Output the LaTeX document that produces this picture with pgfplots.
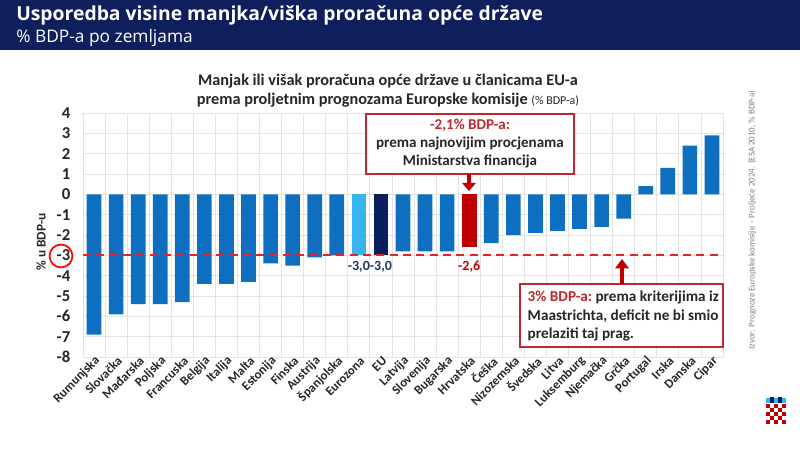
\documentclass[border=0pt]{standalone}
\usepackage{pgfplots}
\pgfplotsset{compat=1.18}
\usepackage{pgfplotstable}
\usetikzlibrary{arrows.meta}
\usepackage{fontspec}
\setmainfont{Carlito}
\newfontfamily\headfont{Open Sans}

\definecolor{headnavy}{HTML}{0F1F5C}
\definecolor{barblue}{HTML}{0E6FC1}
\definecolor{ezblue}{HTML}{38B4F0}
\definecolor{eunavy}{HTML}{0B1F5E}
\definecolor{hrred}{HTML}{C00000}
\definecolor{dashred}{HTML}{E02428}
\definecolor{boxred}{HTML}{C0282B}
\definecolor{txt}{HTML}{262626}
\definecolor{gridgray}{HTML}{E3E3E3}
\definecolor{navytxt}{HTML}{1F3864}

\pgfplotstableread{
x y
0 -6.9
1 -5.9
2 -5.4
3 -5.4
4 -5.3
5 -4.4
6 -4.4
7 -4.3
8 -3.4
9 -3.5
10 -3.1
11 -3.0
14 -2.8
15 -2.8
16 -2.8
18 -2.4
19 -2.0
20 -1.9
21 -1.8
22 -1.7
23 -1.6
24 -1.2
25 0.4
26 1.3
27 2.4
28 2.9
}\countries

\begin{document}
\begin{tikzpicture}
\fill[white] (0,0) rectangle (600pt,337.5pt);
\useasboundingbox (0,0) rectangle (600pt,337.5pt);
\begin{scope}[x=0.75pt,y=-0.75pt,shift={(0pt,337.5pt)}]
  \fill[headnavy] (0,0) rectangle (800,50);
  \node[anchor=base west, text=white, inner sep=0pt, font=\headfont\bfseries\fontsize{14.5}{16}\selectfont] at (16,21) {Usporedba visine manjka/viška proračuna opće države};
  \node[anchor=base west, text=white, inner sep=0pt, font=\headfont\fontsize{13}{15}\selectfont] at (16,43) {\% BDP-a po zemljama};
  \node[align=center, text=txt, font=\bfseries\fontsize{12.2}{14.25}\selectfont] at (388,91) {Manjak ili višak proračuna opće države u članicama EU-a\\prema proljetnim prognozama Europske komisije {\mdseries\fontsize{9}{10}\selectfont (\% BDP-a)}};
  \node[rotate=90, text=txt, font=\bfseries\fontsize{10}{12}\selectfont] at (41,242) {\% u BDP-u};
  \node[rotate=90, text=gray, font=\fontsize{6.7}{8}\selectfont] at (752,220) {Izvor: Prognoze Europske komisije -- Proljeće 2024. (ESA 2010, \% BDP-a)};
\end{scope}

\begin{axis}[
  at={(62.25pt,69.75pt)}, anchor=south west,
  scale only axis, width=480pt, height=183pt,
  xmin=-0.5, xmax=28.5, ymin=-8, ymax=4,
  ybar, bar width=11pt,
  xtick={0,...,28},
  xticklabels={Rumunjska, Slovačka, Mađarska, Poljska, Francuska, Belgija, Italija, Malta, Estonija, Finska, Austrija, Španjolska, Eurozona, EU, Latvija, Slovenija, Bugarska, Hrvatska, Češka, Nizozemska, Švedska, Litva, Luksemburg, Njemačka, Grčka, Portugal, Irska, Danska, Cipar},
  minor xtick={-0.5,0.5,...,28.5},
  xminorgrids=true, ymajorgrids=true, xmajorgrids=false,
  grid style={gridgray, line width=0.6pt},
  minor grid style={gridgray, line width=0.6pt},
  ytick={-8,...,4},
  yticklabels={-8,-7,-6,-5,-4,-3,-2,-1,0,1,2,3,4},
  axis line style={draw=none},
  major tick length=0pt, minor tick length=0pt,
  xticklabel style={rotate=45, anchor=east, inner sep=1pt, yshift=-3pt, xshift=2pt, text=txt, font=\bfseries\fontsize{9.6}{10}\selectfont},
  yticklabel style={text=txt, xshift=-6pt, font=\bfseries\fontsize{12.5}{14}\selectfont},
  clip=false,
]
\addplot[fill=barblue, draw=none, bar shift=0pt] table[x=x,y=y]{\countries};
\addplot[fill=ezblue, draw=none, bar shift=0pt] coordinates {(12,-3.0)};
\addplot[fill=eunavy, draw=none, bar shift=0pt] coordinates {(13,-3.0)};
\addplot[fill=hrred, draw=none, bar shift=0pt] coordinates {(17,-2.6)};
\addplot[sharp plot, dashred, line width=1.6pt, dash pattern=on 6pt off 4pt] coordinates {(-0.5,-3) (28.5,-3)};
\node[anchor=north, yshift=-3pt, inner sep=1pt, text=navytxt, font=\bfseries\fontsize{10.5}{12}\selectfont] at (axis cs:12,-3) {-3,0};
\node[anchor=north, yshift=-3pt, inner sep=1pt, text=navytxt, font=\bfseries\fontsize{10.5}{12}\selectfont] at (axis cs:13,-3) {-3,0};
\node[anchor=north, yshift=-3pt, inner sep=1pt, text=hrred, font=\bfseries\fontsize{10.5}{12}\selectfont] at (axis cs:17,-3) {-2,6};
\end{axis}

\begin{scope}[x=0.75pt,y=-0.75pt,shift={(0pt,337.5pt)}]
  \draw[red, line width=1.3pt] (61,256) circle[radius=8.6pt];
  \draw[boxred, line width=1.2pt, fill=white] (366,114) rectangle (574,174);
  \node[align=center, text=txt, font=\bfseries\fontsize{11.3}{13.5}\selectfont] at (470,144) {\textcolor{boxred}{-2,1\% BDP-a:}\\prema najnovijim procjenama\\Ministarstva financija};
  \draw[hrred, line width=3.5pt, -{Triangle[width=10pt,length=6pt]}] (469,174) -- (469,191);
  \draw[boxred, line width=1.2pt, fill=white] (520,284) rectangle (723,347);
  \node[anchor=west, align=left, text=txt, font=\bfseries\fontsize{11.4}{14}\selectfont] at (523,316) {\textcolor{boxred}{3\% BDP-a:}~prema kriterijima iz\\Maastrichta, deficit ne bi smio\\prelaziti taj prag.};
  \draw[hrred, line width=3.5pt, -{Triangle[width=10pt,length=7pt]}] (622,284) -- (622,259);
  % coat of arms (decorative)
  \fill[white] (766,404) rectangle (786,424);
  \foreach \i in {0,...,4}{\foreach \j in {0,...,4}{%
    \pgfmathtruncatemacro\k{mod(\i+\j,2)}%
    \ifnum\k=0 \fill[hrred] (766+4*\i,404+4*\j) rectangle ++(4,4);\fi}}
  \fill[ezblue] (766,398) rectangle (770,403);
  \fill[eunavy] (770,397) rectangle (774,403);
  \fill[ezblue] (774,398) rectangle (778,403);
  \fill[eunavy] (778,397) rectangle (782,403);
  \fill[ezblue] (782,398) rectangle (786,403);
\end{scope}
\end{tikzpicture}
\end{document}
